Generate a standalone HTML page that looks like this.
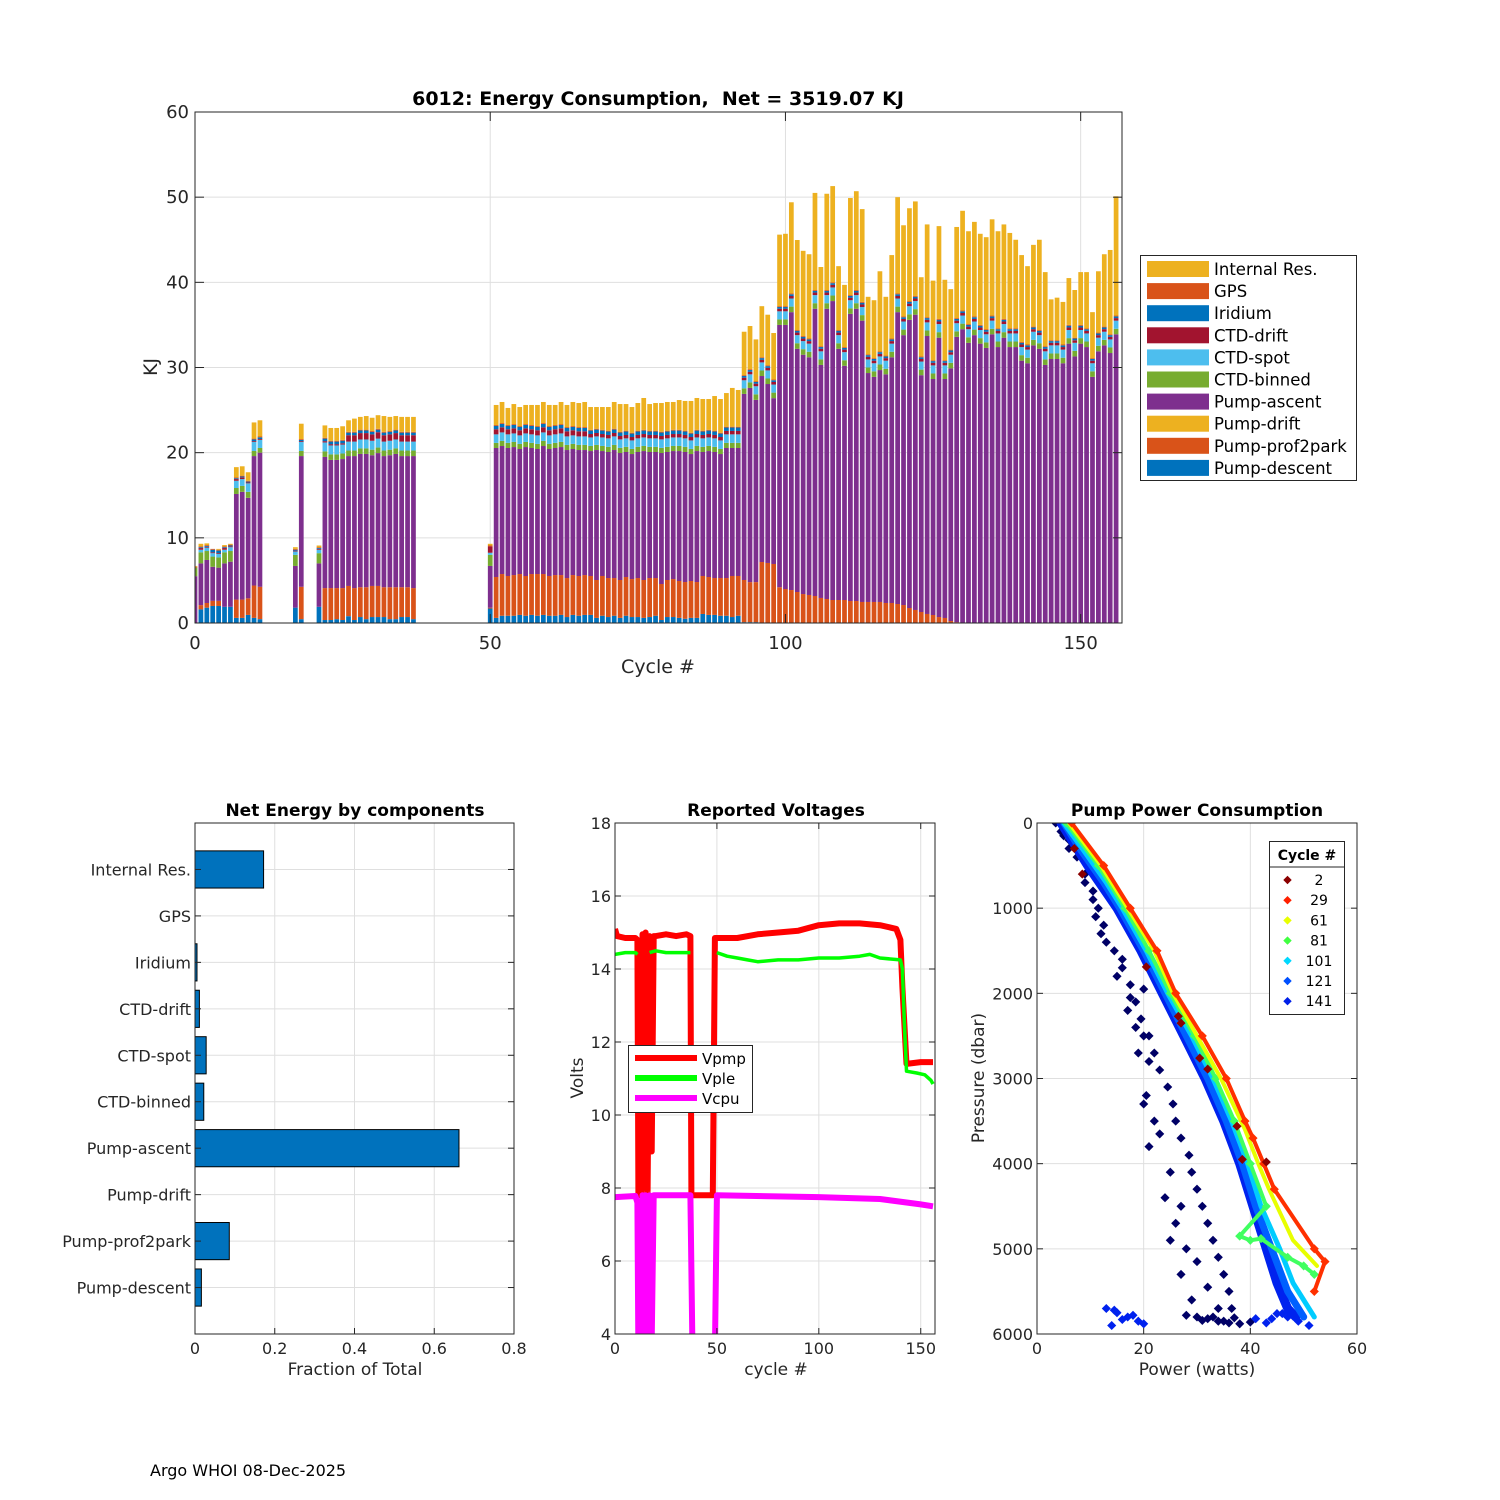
<!DOCTYPE html>
<html><head><meta charset="utf-8"><title>6012 Energy</title>
<style>
html,body{margin:0;padding:0;background:#fff;}
svg{display:block;font-family:"DejaVu Sans","Liberation Sans",sans-serif;}
</style></head>
<body>
<svg id="fig" width="1500" height="1500" viewBox="0 0 1500 1500" xmlns="http://www.w3.org/2000/svg">
<defs>
<clipPath id="clipE"><rect x="195" y="112" width="927" height="511"/></clipPath>
<clipPath id="clipV"><rect x="615" y="823" width="320" height="511"/></clipPath>
<clipPath id="clipS"><rect x="1037" y="823" width="320" height="511"/></clipPath>
</defs>
<rect x="0" y="0" width="1500" height="1500" fill="#fff"/>
<g id="energy"></g>
<g id="frac"></g>
<g id="volt"></g>
<g id="pump"></g>
<text x="150" y="1476" font-size="16" fill="#000">Argo WHOI 08-Dec-2025</text>
</svg>
<script>
// ===== Energy chart data =====
const cycles = [0,1,2,3,4,5,6,7,8,9,10,11,17,18,21,22,23,24,25,26,27,28,29,30,31,32,33,34,35,36,37,
50,51,52,53,54,55,56,57,58,59,60,61,62,63,64,65,66,67,68,69,70,71,72,73,74,75,76,77,78,79,80,81,82,83,84,85,86,87,88,89,90,91,92,
93,94,95,96,97,98,99,100,101,102,103,104,105,106,107,108,109,110,111,112,113,114,115,116,117,118,119,120,121,122,123,124,125,126,127,128,129,130,
131,132,133,134,135,136,137,138,139,140,141,142,143,144,145,146,147,148,149,150,151,152,153,154,155,156];
const pumpDescent = [0,1.6,1.8,2.0,2.0,1.9,1.9,0.6,0.6,0.95,0.6,0.45,1.8,0.45,1.9,
.35,.35,.45,.35,.8,.35,.7,.45,.7,.7,.7,.45,.45,.7,.7,.45,
1.7,.6,.85,.85,.85,.95,.85,.95,.85,.95,.85,.85,.95,.7,.95,.85,.95,.95,.6,.85,.7,.85,.6,.85,.7,.7,.6,.7,.85,.35,.7,.7,.6,.5,.6,.6,1.06,.95,.95,.85,.85,.7,.85,
.1,.1,.1,0,0,0,0,0,0,0,0,0,0,0,0,0,0,0,0,0,0,0,0,0,0,0,0,0,0,0,0,0,0,0,0,0,0,0,
0,0,0,0,0,0,0,0,0,0,0,0,0,0,0,0,0,0,0,0,0,0,0,0,0,0];
const pumpProf2park = [0,.5,.55,.6,.6,0,0,2.15,2.15,1.95,3.8,3.8,0,3.8,0,
3.75,3.75,3.65,3.75,3.55,3.75,3.5,3.75,3.65,3.65,3.5,3.75,3.75,3.5,3.5,3.65,
.1,4.8,4.9,4.67,4.78,4.8,4.67,4.8,4.9,4.8,4.67,4.78,4.68,4.58,4.68,4.67,4.68,4.57,4.45,4.67,4.58,4.43,4.45,4.55,4.46,4.58,4.45,4.58,4.43,4.23,4.35,4.46,4.33,4.31,4.33,4.21,4.46,4.45,4.33,4.43,4.43,4.82,4.67,
4.95,4.7,4.7,7.16,7.05,6.93,4.2,3.99,3.87,3.64,3.4,3.29,3.17,2.94,2.82,2.7,2.7,2.7,2.58,2.58,2.47,2.47,2.47,2.47,2.35,2.35,2.23,2.11,1.76,1.53,1.29,1.06,.94,.7,.59,.23,.1,.05,
0,0,0,0,0,0,0,0,0,0,0,0,0,0,0,0,0,0,0,0,0,0,0,0,0,0];
const pumpAscent = [5.5,4.9,5.05,4.0,3.9,5.1,5.3,12.4,12.65,11.8,15.2,15.75,4.9,15.35,5.1,
15.4,15.05,15.05,15.15,15.25,15.5,15.65,15.65,15.35,15.6,15.4,15.5,15.65,15.4,15.4,15.5,
4.9,15.15,15.03,15.03,15.03,14.68,15.14,14.8,14.68,15.03,14.91,14.92,15.03,15.03,14.8,14.79,14.68,14.67,15.26,14.67,14.8,15.03,14.91,14.68,14.68,14.8,15.14,14.8,14.8,15.38,15.03,15.03,15.26,15.27,14.91,15.38,14.56,14.79,14.8,14.56,15.27,15.03,15.03,
21.85,22.8,21.4,21.84,21.01,19.47,30.8,31.01,32.63,28.56,28.1,27.91,33.73,27.36,34.08,35.1,29.5,27.5,33.72,34.32,33.03,26.88,26.43,27.23,26.85,28.85,34.27,31.69,33.84,34.67,27.81,32.64,27.71,32.8,28.06,29.67,33.5,34.45,
32.9,33.8,32.8,32.3,33.9,32.4,33.5,32.4,32.4,30.8,30.5,32.6,32.2,30.3,31.0,31.0,30.5,32.8,31.3,32.8,32.4,28.9,31.9,32.6,31.7,33.9];
const pumpDrift = [0,0,0,0,0,0,0,0,0,0,0,0,0,0,0,
0,0,0,0,0,0,0,0,0,0,0,0,0,0,0,0,
0,0,0,0,0,0,0,0,0,0,0,0,0,0,0,0,0,0,0,0,0,0,0,0,0,0,0,0,0,0,0,0,0,0,0,0,0,0,0,0,0,0,0,
0,0,0,0,0,0,0,0,0,0,0,0,0,0,0,0,0,0,0,0,0,0,0,0,0,0,0,0,0,0,0,0,0,0,0,0,0,0,
0,0,0,0,0,0,0,0,0,0,0,0,0,0,0,0,0,0,0,0,0,0,0,0,0,0];
const ctdBinned = [1.0,1.3,1.05,1.2,1.2,1.3,1.25,.7,.7,.7,.6,.55,1.3,.6,1.2,
.65,.65,.65,.65,.65,.65,.65,.65,.65,.65,.65,.65,.65,.65,.65,.65,
1.3,.6,.6,.6,.6,.6,.6,.6,.6,.6,.6,.6,.6,.6,.6,.6,.6,.6,.6,.6,.6,.6,.6,.6,.6,.6,.6,.6,.6,.6,.6,.6,.6,.6,.6,.6,.6,.6,.6,.6,.6,.6,.6,
.65,.65,.65,.65,.65,.65,.65,.65,.65,.65,.65,.65,.65,.65,.65,.65,.65,.65,.65,.65,.65,.65,.65,.65,.65,.65,.65,.65,.65,.65,.65,.65,.65,.65,.65,.65,.65,.65,
.65,.65,.65,.65,.65,.65,.65,.65,.65,.65,.65,.65,.65,.65,.65,.65,.65,.65,.65,.65,.65,.65,.65,.65,.65,.65];
const ctdSpot = [0,.3,.4,.4,.4,.3,.45,.85,.8,1.0,1.05,.95,.4,1.05,.4,
1.05,1.05,1.05,1.05,1.05,1.05,1.05,1.05,1.05,1.05,1.05,1.05,1.05,1.05,1.05,1.05,
.25,1,1,1,1,1,1,1,1,1,1,1,1,1,1,1,1,1,1,1,1,1,1,1,1,1,1,1,1,1,1,1,1,1,1,1,1,1,1,1,1,1,1,
.95,.95,.95,.95,.95,.95,.95,.95,.95,.95,.95,.95,.95,.95,.95,.95,.95,.95,.95,.95,.95,.95,.95,.95,.95,.95,.95,.95,.95,.95,.95,.95,.95,.95,.95,.95,.95,.95,
.95,.95,.95,.95,.95,.95,.95,.95,.95,.95,.95,.95,.95,.95,.95,.95,.95,.95,.95,.95,.95,.95,.95,.95,.95,.95];
const ctdDrift = [0,.2,.1,.1,.1,.2,.1,.2,.2,.1,.1,.1,.1,.1,.1,
.15,.15,.15,.15,.75,.75,.75,.75,.75,.75,.75,.75,.75,.75,.75,.75,
.75,.6,.6,.6,.6,.6,.6,.6,.6,.6,.6,.6,.6,.6,.6,.6,.6,.4,.4,.4,.4,.4,.4,.4,.4,.4,.4,.4,.4,.4,.4,.4,.4,.4,.4,.4,.4,.4,.4,.4,.4,.4,.4,
.3,.3,.3,.3,.3,.3,.3,.3,.3,.3,.3,.3,.3,.3,.3,.3,.3,.3,.3,.3,.3,.3,.3,.3,.3,.3,.3,.3,.3,.3,.3,.3,.3,.3,.3,.3,.3,.3,
.3,.3,.3,.3,.3,.3,.3,.3,.3,.3,.3,.3,.3,.3,.3,.3,.3,.3,.3,.3,.3,.3,.3,.3,.3,.3];
const iridium = [0,.1,.1,.3,.3,.1,.1,.1,.1,.1,.2,.2,.1,.15,.1,
.3,.3,.3,.3,.3,.3,.3,.3,.3,.3,.3,.3,.3,.3,.3,.3,
0,.4,.4,.4,.4,.4,.4,.4,.4,.4,.4,.4,.4,.4,.4,.4,.4,.4,.4,.4,.4,.4,.4,.4,.4,.4,.4,.4,.4,.4,.4,.4,.4,.4,.4,.4,.4,.4,.4,.4,.4,.4,.4,
.2,.2,.2,.2,.2,.2,.2,.2,.2,.2,.2,.2,.2,.2,.2,.2,.2,.2,.2,.2,.2,.2,.2,.2,.2,.2,.2,.2,.2,.2,.2,.2,.2,.2,.2,.2,.2,.2,
.2,.2,.2,.2,.2,.2,.2,.2,.2,.2,.2,.2,.2,.2,.2,.2,.2,.2,.2,.2,.2,.2,.2,.2,.2,.2];
const gps = [.1,.1,.1,.1,.1,.1,.1,.1,.1,.1,.1,.1,.1,.1,.1,
.1,.1,.1,.1,.1,.1,.1,.1,.1,.1,.1,.1,.1,.1,.1,.1,
.1,.1,.1,.1,.1,.1,.1,.1,.1,.1,.1,.1,.1,.1,.1,.1,.1,.1,.1,.1,.1,.1,.1,.1,.1,.1,.1,.1,.1,.1,.1,.1,.1,.1,.1,.1,.1,.1,.1,.1,.1,.1,.1,
.1,.1,.1,.1,.1,.1,.1,.1,.1,.1,.1,.1,.1,.1,.1,.1,.1,.1,.1,.1,.1,.1,.1,.1,.1,.1,.1,.1,.1,.1,.1,.1,.1,.1,.1,.1,.1,.1,
.1,.1,.1,.1,.1,.1,.1,.1,.1,.1,.1,.1,.1,.1,.1,.1,.1,.1,.1,.1,.1,.1,.1,.1,.1,.1];
const internalRes = [.1,.3,.2,0,.1,.15,.1,1.2,1.1,1.0,1.9,1.9,.2,1.8,.2,
1.45,1.5,1.5,1.6,1.35,1.55,1.5,1.6,1.55,1.6,1.85,1.65,1.6,1.75,1.75,1.75,
.2,2.35,2.47,2.0,2.35,2.23,2.24,2.35,2.47,2.47,2.47,2.35,2.59,2.59,2.82,2.82,2.94,2.67,2.55,2.67,2.78,3.14,3.25,3.13,3.02,3.25,3.73,3.13,3.25,3.37,3.37,3.26,3.49,3.49,3.73,3.73,3.72,3.61,4.07,3.96,3.95,4.55,4.31,
5.1,5.07,4.9,6.0,5.94,5.45,8.4,8.5,10.7,10.57,10.0,9.9,11.4,9.3,11.3,11.3,7.5,7.3,11.4,11.6,10.9,6.75,6.8,9.4,6.9,9.8,11.3,10.7,10.9,11.1,9.3,10.9,9.35,10.9,9.45,7.1,10.7,11.7,
10.9,11.1,10.7,10.8,11.3,11.4,11.1,11.2,10.4,10.2,9.2,9.6,10.6,8.7,4.8,5.0,5.0,5.5,5.6,6.2,6.6,5.4,7.2,8.5,9.9,14.0];
const energyXTicks = [0,50,100,150];
const energyYTicks = [0,10,20,30,40,50,60];

// ===== Fraction chart data =====
const fracCategories = ["Internal Res.","GPS","Iridium","CTD-drift","CTD-spot","CTD-binned","Pump-ascent","Pump-drift","Pump-prof2park","Pump-descent"];
const fracValues = [0.172,0,0.005,0.011,0.028,0.022,0.662,0,0.086,0.016];
const fracXTicks = [0,0.2,0.4,0.6,0.8];

// ===== Voltage data =====
const vpmpCycles = [0,1,5,10,11,11.5,13,13.5,14,15,16,17,18,19,20,25,30,35,37,37.5,48,49,50,60,70,80,90,100,110,120,130,138,140,141,143,150,156];
const vpmpValues = [15.1,14.9,14.85,14.85,14.8,7.8,7.8,14.95,8.0,15.0,7.9,14.9,9.0,14.9,14.9,14.95,14.9,14.95,14.9,7.8,7.8,14.85,14.85,14.85,14.95,15.0,15.05,15.2,15.25,15.25,15.2,15.1,14.8,13.5,11.4,11.45,11.45];
const vpleCycles = [0,5,10,11,null,17,20,25,30,37,null,50,55,60,65,70,80,90,100,110,120,125,130,140,141,142,143,148,152,155,156];
const vpleValues = [14.4,14.45,14.45,14.4,null,14.45,14.5,14.45,14.45,14.45,null,14.45,14.35,14.3,14.25,14.2,14.25,14.25,14.3,14.3,14.35,14.4,14.3,14.25,14.0,12.5,11.2,11.15,11.1,10.95,10.85];
const vcpuCycles = [0,10,11,11.5,13,13.5,14,15,16,17,18,19,20,37,38,49,50,100,130,150,156];
const vcpuValues = [7.75,7.78,7.6,3.5,3.5,7.8,3.5,7.8,3.5,7.8,3.8,7.8,7.8,7.8,3.5,3.5,7.8,7.75,7.7,7.55,7.5];
const voltXTicks = [0,50,100,150];
const voltYTicks = [4,6,8,10,12,14,16,18];

// ===== Pump power data =====
const navyTrackP = [0,100,200,400,600,800,1000,1200,1500,1700,1900,2100,2300,2500,2700,2900,3100,3300,3500,3700,3900,4100,4300,4500,4700,4900,5100,5300,5500,5700,5850];
const navyTrackW = [3.5,4.5,6,7.5,9,10.5,11.5,12.5,14.5,16,17.5,18.5,19.5,21,22,23,24.5,25.5,26,27,28.5,29,30,31,32,33,34,35,36,36.5,35];
const navyScatterP = [1300,1600,1950,2200,2500,2700,3200,3500,3800,4100,4400,4700,5000,5300,5600,5780,5800,5820,5850,5870,5880,5860,5840,5800,5810,150,300,700,900,1100,1400,1800,2050,2400,2800,3300,3650,4500,4900,5150,5450,5700];
const navyScatterW = [12,16,20,17,20,19,20.5,22,21,25,24,26,28,27,29,28,30,32,34,36,38,40,31,33,37,5,6,9,10.5,11,13,15,17.5,18.5,21,20,23,27,25,30,32,34];
const c141P = [0,200,500,1000,1500,2000,2500,3000,3500,4000,4500,5000,5400,5700,5800];
const c141W = [4.5,6.5,9.5,15,19.5,23.5,27.5,31.5,35,38,40.5,43,45,47,48.5];
const c141BottomP = [5700,5750,5800,5850,5900,5780,5820,5870,5760,5800,5850,5900,5820,5760,5830,5720,5880];
const c141BottomW = [13,15,17,19,14,18,41,43,45,47,49,51,44,46,16,14.5,20];
const c121P = [0,300,700,1000,1500,2000,2500,3000,3500,4000,4500,5000,5500,5800];
const c121W = [5,8,12.5,15.5,20,24,28,32,35.5,38.5,41,44,47,50];
const c101P = [0,300,700,1000,1500,2000,2500,3000,3500,4000,4500,5000,5400,5800];
const c101W = [5,8.5,13,16,20.5,24.5,29,33,36.5,39.5,42,45.5,48,52];
const c81P = [0,500,1000,1500,2000,2500,3000,3500,4000,4500,4850,4900,4880,5100,5200,5300];
const c81W = [5.5,11.5,16.5,21,25,29.5,33.5,37,40,43,38,40,42,47,50,52];
const c61P = [0,500,1000,1500,2000,2500,3000,3600,4000,4300,4900,5200];
const c61W = [6,12,17,22,25.5,30,34.5,39,41.5,43.5,48,52.5];
const c29P = [0,500,1000,1500,2000,2500,3000,3500,3700,4000,4300,5000,5150,5500];
const c29W = [6.5,12.5,17.5,22.5,26,31,35.5,39,40.5,42.5,44.5,52,54,52];
const c2P = [300,600,1690,2270,2350,2760,2890,3560,3950,3980];
const c2W = [7,8.5,20.5,26.5,27,30.5,32,37.5,38.5,43];
const pumpXTicks = [0,20,40,60];
const pumpYTicks = [0,1000,2000,3000,4000,5000,6000];

const NS = "http://www.w3.org/2000/svg";
function mk(tag, attrs, parent, text){
  const e = document.createElementNS(NS, tag);
  for (const k in attrs) e.setAttribute(k, attrs[k]);
  if (text !== undefined) e.textContent = text;
  parent.appendChild(e);
  return e;
}
const AX = "#262626", GRID = "#dfdfdf";

// ================= Energy chart =================
(function(){
  const g = document.getElementById('energy');
  const L=195,R=1122,T=112,B=623, xmin=0,xmax=157,ymin=0,ymax=60;
  const xs = v => L + (v-xmin)/(xmax-xmin)*(R-L);
  const ys = v => B - (v-ymin)/(ymax-ymin)*(B-T);
  for (const t of energyYTicks){ if(t===0||t===60) continue;
    const gl = mk('line',{x1:L,x2:R,y1:ys(t),y2:ys(t),stroke:GRID,'stroke-width':1},g);
    
    
  }
  for (const t of energyXTicks){ if(t===0) continue;
    const gl = mk('line',{x1:xs(t),x2:xs(t),y1:T,y2:B,stroke:GRID,'stroke-width':1},g);
    
    
  }
  const series = [
    ['pump-descent',pumpDescent,'#0072BD'],
    ['pump-prof2park',pumpProf2park,'#D95319'],
    ['pump-ascent',pumpAscent,'#7E2F8E'],
    ['pump-drift',pumpDrift,'#EDB120'],
    ['ctd-binned',ctdBinned,'#77AC30'],
    ['ctd-spot',ctdSpot,'#4DBEEE'],
    ['ctd-drift',ctdDrift,'#A2142F'],
    ['iridium',iridium,'#0072BD'],
    ['gps',gps,'#D95319'],
    ['internal-res',internalRes,'#EDB120']
  ];
  const bw = 0.8*(xs(1)-xs(0));
  const bars = mk('g',{'clip-path':'url(#clipE)'},g);
  
  
  for (let i=0;i<cycles.length;i++){
    let base = 0;
    for (const [nm,arr,col] of series){
      const v = arr[i]||0;
      if (v<=0) continue;
      const x0 = xs(cycles[i]) - bw/2;
      const yTop = Math.max(ys(base+v), T), yBot = ys(base);
      const r = mk('rect',{x:x0.toFixed(2),y:yTop.toFixed(2),width:bw.toFixed(2),height:Math.max(0,yBot-yTop).toFixed(2),fill:col},bars);
      
      
      base += v;
    }
  }
  const box = mk('rect',{x:L,y:T,width:R-L,height:B-T,fill:'none',stroke:AX,'stroke-width':1},g);
  
  
  for (const t of energyYTicks){
    const tk = mk('line',{x1:L,x2:L+9,y1:ys(t),y2:ys(t),stroke:AX},g);
    
    
    const tk2 = mk('line',{x1:R-9,x2:R,y1:ys(t),y2:ys(t),stroke:AX},g);
    
    
    const lb = mk('text',{x:L-6,y:ys(t)+6,'text-anchor':'end','font-size':18,fill:AX},g,String(t));
    
    
  }
  for (const t of energyXTicks){
    const tk = mk('line',{x1:xs(t),x2:xs(t),y1:B,y2:B-9,stroke:AX},g);
    
    
    const tk2 = mk('line',{x1:xs(t),x2:xs(t),y1:T,y2:T+9,stroke:AX},g);
    
    
    const lb = mk('text',{x:xs(t),y:B+26,'text-anchor':'middle','font-size':18,fill:AX},g,String(t));
    
    
  }
  const ti = mk('text',{x:658,y:105,'text-anchor':'middle','font-size':19,'font-weight':'bold',fill:'#000','xml:space':'preserve'},g,'6012: Energy Consumption,\u00a0 Net = 3519.07 KJ');
  
  
  const xl = mk('text',{x:658,y:673,'text-anchor':'middle','font-size':19,fill:AX},g,'Cycle #');
  
  
  const yl = mk('text',{x:157,y:367,'text-anchor':'middle','font-size':19,fill:AX,transform:'rotate(-90 157 367)'},g,'KJ');
  
  
  // legend
  const lg = mk('g',{},g);
  
  
  const lb = mk('rect',{x:1140.5,y:255.5,width:216,height:225,fill:'#fff',stroke:AX},lg);
  
  
  const leg = [
    ['internal-res','Internal Res.','#EDB120'],['gps','GPS','#D95319'],['iridium','Iridium','#0072BD'],
    ['ctd-drift','CTD-drift','#A2142F'],['ctd-spot','CTD-spot','#4DBEEE'],['ctd-binned','CTD-binned','#77AC30'],
    ['pump-ascent','Pump-ascent','#7E2F8E'],['pump-drift','Pump-drift','#EDB120'],
    ['pump-prof2park','Pump-prof2park','#D95319'],['pump-descent','Pump-descent','#0072BD']];
  leg.forEach(([nm,label,col],k)=>{
    const y = 269 + k*22.1;
    const sw = mk('rect',{x:1147,y:y-8,width:62,height:16,fill:col},lg);
    
    
    const tx = mk('text',{x:1214,y:y+6,'font-size':16.5,fill:'#000'},lg,label);
    
    
  });
})();

// ================= Fraction chart =================
(function(){
  const g = document.getElementById('frac');
  const L=195,R=514,T=823,B=1334;
  const xs = v => L + v/0.8*(R-L);
  const n = fracCategories.length;
  const step = (B-T)/(n+1);
  const ys = i => T + (i+1)*step;
  for (const t of fracXTicks){ if(t===0||t===0.8) continue;
    const gl = mk('line',{x1:xs(t),x2:xs(t),y1:T,y2:B,stroke:GRID},g);
    
    
  }
  for (let i=0;i<n;i++){
    const gl = mk('line',{x1:L,x2:R,y1:ys(i),y2:ys(i),stroke:GRID},g);
    
    
  }
  const bh = 0.8*step;
  fracCategories.forEach((c,i)=>{
    const v = fracValues[i];
    if (v>0){
      const r = mk('rect',{x:L,y:ys(i)-bh/2,width:xs(v)-L,height:bh,fill:'#0072BD',stroke:'#000','stroke-width':1},g);
      
      
    }
    const tl = mk('text',{x:L-4,y:ys(i)+6,'text-anchor':'end','font-size':16,fill:AX},g,c);
    
    
    const tk = mk('line',{x1:L,x2:L+6,y1:ys(i),y2:ys(i),stroke:AX},g);
    
    
    const tk2 = mk('line',{x1:R-6,x2:R,y1:ys(i),y2:ys(i),stroke:AX},g);
    
    
  });
  const box = mk('rect',{x:L,y:T,width:R-L,height:B-T,fill:'none',stroke:AX},g);
  
  
  for (const t of fracXTicks){
    const tk = mk('line',{x1:xs(t),x2:xs(t),y1:B,y2:B-6,stroke:AX},g);
    
    
    const lb = mk('text',{x:xs(t),y:B+20,'text-anchor':'middle','font-size':16,fill:AX},g,String(t));
    
    
  }
  const ti = mk('text',{x:355,y:816,'text-anchor':'middle','font-size':17,'font-weight':'bold',fill:'#000'},g,'Net Energy by components');
  
  
  const xl = mk('text',{x:355,y:1375,'text-anchor':'middle','font-size':17,fill:AX},g,'Fraction of Total');
  
  
})();

// ================= Voltage chart =================
(function(){
  const g = document.getElementById('volt');
  const L=615,R=935,T=823,B=1334, xmax=157;
  const xs = v => L + v/xmax*(R-L);
  const ys = v => B - (v-4)/14*(B-T);
  for (const t of voltYTicks){ if(t===4||t===18) continue;
    const gl = mk('line',{x1:L,x2:R,y1:ys(t),y2:ys(t),stroke:GRID},g);
    
    
  }
  for (const t of voltXTicks){ if(t===0) continue;
    const gl = mk('line',{x1:xs(t),x2:xs(t),y1:T,y2:B,stroke:GRID},g);
    
    
  }
  const clip = mk('g',{'clip-path':'url(#clipV)'},g);
  
  
  function pathOf(cx, vy){
    let d='', pen=false;
    for (let i=0;i<cx.length;i++){
      if (cx[i]===null||vy[i]===null){pen=false;continue;}
      d += (pen?'L':'M') + xs(cx[i]).toFixed(1)+','+ys(vy[i]).toFixed(1);
      pen=true;
    }
    return d;
  }
  const order = [['vpmp',vpmpCycles,vpmpValues,'#ff0000',6],['vple',vpleCycles,vpleValues,'#00ff00',3.5],['vcpu',vcpuCycles,vcpuValues,'#ff00ff',6]];
  for (const [nm,cx,vy,col,w] of order){
    const p = mk('path',{d:pathOf(cx,vy),fill:'none',stroke:col,'stroke-width':w,'stroke-linejoin':'round'},clip);
    
    
  }
  const box = mk('rect',{x:L,y:T,width:R-L,height:B-T,fill:'none',stroke:AX},g);
  
  
  for (const t of voltYTicks){
    const tk = mk('line',{x1:L,x2:L+6,y1:ys(t),y2:ys(t),stroke:AX},g);
    
    
    const tk2 = mk('line',{x1:R-6,x2:R,y1:ys(t),y2:ys(t),stroke:AX},g);
    
    
    const lb = mk('text',{x:L-4,y:ys(t)+6,'text-anchor':'end','font-size':16,fill:AX},g,String(t));
    
    
  }
  for (const t of voltXTicks){
    const tk = mk('line',{x1:xs(t),x2:xs(t),y1:B,y2:B-6,stroke:AX},g);
    
    
    const tk2 = mk('line',{x1:xs(t),x2:xs(t),y1:T,y2:T+6,stroke:AX},g);
    
    
    const lb = mk('text',{x:xs(t),y:B+20,'text-anchor':'middle','font-size':16,fill:AX},g,String(t));
    
    
  }
  const ti = mk('text',{x:776,y:816,'text-anchor':'middle','font-size':17,'font-weight':'bold',fill:'#000'},g,'Reported Voltages');
  
  
  const xl = mk('text',{x:776,y:1375,'text-anchor':'middle','font-size':17,fill:AX},g,'cycle #');
  
  
  const yl = mk('text',{x:583,y:1078,'text-anchor':'middle','font-size':17,fill:AX,transform:'rotate(-90 583 1078)'},g,'Volts');
  
  
  const lg = mk('g',{},g);
  
  
  const lb = mk('rect',{x:628.5,y:1045.5,width:124,height:67,fill:'#fff',stroke:AX},lg);
  
  
  [['Vpmp','#ff0000'],['Vple','#00ff00'],['Vcpu','#ff00ff']].forEach(([nm,col],k)=>{
    const y = 1058 + k*20;
    const ln = mk('line',{x1:635,x2:697,y1:y,y2:y,stroke:col,'stroke-width':6},lg);
    
    
    const tx = mk('text',{x:702,y:y+6,'font-size':15,fill:'#000'},lg,nm);
    
    
  });
})();

// ================= Pump power chart =================
(function(){
  const g = document.getElementById('pump');
  const L=1037,R=1357,T=823,B=1334;
  const xs = v => L + v/60*(R-L);
  const ys = v => T + v/6000*(B-T);
  for (const t of pumpYTicks){ if(t===0||t===6000) continue;
    const gl = mk('line',{x1:L,x2:R,y1:ys(t),y2:ys(t),stroke:GRID},g);
    
    
  }
  for (const t of pumpXTicks){ if(t===0||t===60) continue;
    const gl = mk('line',{x1:xs(t),x2:xs(t),y1:T,y2:B,stroke:GRID},g);
    
    
  }
  const area = mk('g',{'clip-path':'url(#clipS)'},g);
  
  
  function band(P,W,col,w,name){
    let d='';
    for (let i=0;i<P.length;i++) d += (i?'L':'M')+xs(W[i]).toFixed(1)+','+ys(P[i]).toFixed(1);
    const p = mk('path',{d:d,fill:'none',stroke:col,'stroke-width':w,'stroke-linejoin':'round','stroke-linecap':'round'},area);
    
    
  }
  function pts(P,W,col,name){
    for (let i=0;i<P.length;i++){
      const x=xs(W[i]), y=ys(P[i]);
      const m = mk('path',{d:`M${(x-3.5).toFixed(1)},${y.toFixed(1)}L${x.toFixed(1)},${(y-3.5).toFixed(1)}L${(x+3.5).toFixed(1)},${y.toFixed(1)}L${x.toFixed(1)},${(y+3.5).toFixed(1)}Z`,fill:col,stroke:col,'stroke-width':1.5},area);
      
      
    }
  }
  pts(navyTrackP,navyTrackW,'#000066','cycle-151');
  pts(navyScatterP,navyScatterW,'#000066','cycle-151');
  pts(c141BottomP,c141BottomW,'#0022ee','cycle-141');
  band(c141P,c141W,'#0022ee',9,'cycle-141');
  band(c121P,c121W,'#0060ff',7,'cycle-121');
  band(c101P,c101W,'#00ccff',5,'cycle-101');
  band(c81P,c81W,'#40ff60',4,'cycle-81');
  pts(c81P,c81W,'#40ff60','cycle-81');
  band(c61P,c61W,'#e8ff00',4,'cycle-61');
  band(c29P,c29W,'#ff3000',4,'cycle-29');
  pts(c29P,c29W,'#ff3000','cycle-29');
  pts(c2P,c2W,'#8b0000','cycle-2');
  const box = mk('rect',{x:L,y:T,width:R-L,height:B-T,fill:'none',stroke:AX},g);
  
  
  for (const t of pumpYTicks){
    const tk = mk('line',{x1:L,x2:L+6,y1:ys(t),y2:ys(t),stroke:AX},g);
    
    
    const tk2 = mk('line',{x1:R-6,x2:R,y1:ys(t),y2:ys(t),stroke:AX},g);
    
    
    const lb = mk('text',{x:L-4,y:ys(t)+6,'text-anchor':'end','font-size':16,fill:AX},g,String(t));
    
    
  }
  for (const t of pumpXTicks){
    const tk = mk('line',{x1:xs(t),x2:xs(t),y1:B,y2:B-6,stroke:AX},g);
    
    
    const lb = mk('text',{x:xs(t),y:B+20,'text-anchor':'middle','font-size':16,fill:AX},g,String(t));
    
    
  }
  const ti = mk('text',{x:1197,y:816,'text-anchor':'middle','font-size':17,'font-weight':'bold',fill:'#000'},g,'Pump Power Consumption');
  
  
  const xl = mk('text',{x:1197,y:1375,'text-anchor':'middle','font-size':17,fill:AX},g,'Power (watts)');
  
  
  const yl = mk('text',{x:984,y:1078,'text-anchor':'middle','font-size':17,fill:AX,transform:'rotate(-90 984 1078)'},g,'Pressure (dbar)');
  
  
  const lg = mk('g',{},g);
  
  
  const lb = mk('rect',{x:1269.5,y:841.5,width:75,height:173,fill:'#fff',stroke:AX},lg);
  
  
  const lt = mk('text',{x:1307,y:860,'text-anchor':'middle','font-size':14,'font-weight':'bold',fill:'#000'},lg,'Cycle #');
  
  
  const sep = mk('line',{x1:1269.5,x2:1344.5,y1:867,y2:867,stroke:AX},lg);
  
  
  [['2','#8b0000'],['29','#ff2000'],['61','#e8ff00'],['81','#40ff40'],['101','#00d8ff'],['121','#0050ff'],['141','#0020e8']].forEach(([nm,col],k)=>{
    const y = 880 + k*20.2;
    const m = mk('path',{d:`M1284,${y}L1287.5,${y-3.5}L1291,${y}L1287.5,${y+3.5}Z`,fill:col,stroke:col},lg);
    
    
    const tx = mk('text',{x:1319,y:y+5,'text-anchor':'middle','font-size':14,fill:'#000'},lg,nm);
    
    
  });
})();
</script>
</body></html>
